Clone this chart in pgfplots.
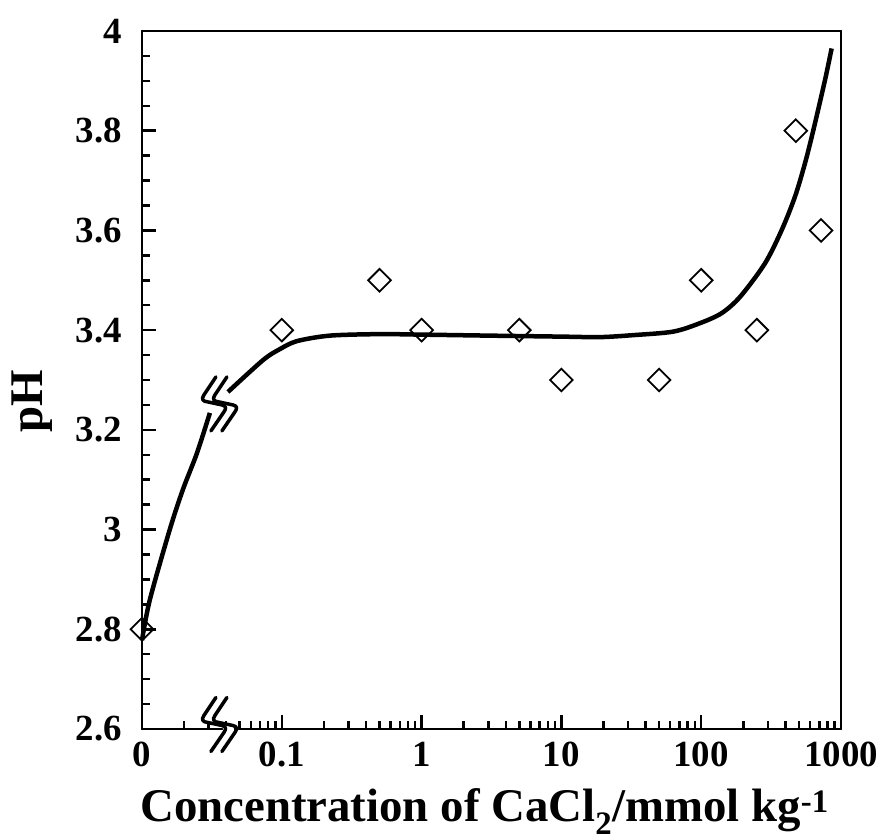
\documentclass[border=0pt]{standalone}
\usepackage{pgfplots}
\pgfplotsset{compat=1.18}
\usepackage{fontspec}
\setmainfont{Liberation Serif}
\begin{document}
\begin{tikzpicture}
\useasboundingbox (-142bp,-111bp) rectangle (741bp,729bp);
\begin{axis}[
  at={(0,0)}, anchor=south west,
  scale only axis, width=699bp, height=698bp,
  xmode=log, xmin=0.01, xmax=1000, ymin=2.6, ymax=4,
  clip=false,
  xtick={0.01,0.1,1,10,100,1000},
  xticklabels={0,0.1,1,10,100,1000},
  minor xtick={0.02,0.03,0.04,0.05,0.06,0.07,0.08,0.09,0.2,0.3,0.4,0.5,0.6,0.7,0.8,0.9,2,3,4,5,6,7,8,9,20,30,40,50,60,70,80,90,200,300,400,500,600,700,800,900},
  ytick={2.6,2.8,3,3.2,3.4,3.6,3.8,4},
  yticklabels={2.6,2.8,3,3.2,3.4,3.6,3.8,4},
  minor ytick={2.65,2.7,2.75,2.85,2.9,2.95,3.05,3.1,3.15,3.25,3.3,3.35,3.45,3.5,3.55,3.65,3.7,3.75,3.85,3.9,3.95},
  tick align=inside, xtick pos=left, ytick pos=left,
  major tick length=14bp, minor tick length=8bp,
  every tick/.style={black, line width=2.5bp},
  axis line style={line width=2.5bp},
  tick label style={font=\fontsize{37}{40}\selectfont\bfseries},
  xticklabel style={anchor=north, inner sep=0pt, yshift=-13bp},
  yticklabel style={anchor=east, inner sep=0pt, xshift=-20bp},
  xlabel={Concentration of CaCl\textsubscript{2}/mmol kg\textsuperscript{-1}},
  ylabel={pH},
  label style={font=\fontsize{47}{50}\selectfont\bfseries},
  xlabel style={at={(axis description cs:0.49,-0.1318)}, anchor=base},
  ylabel style={at={(axis description cs:-0.143,0.47)}, anchor=base},
]
\addplot[line width=4.5bp, smooth, black] coordinates {
 (0.01,2.778) (0.0114,2.86) (0.0158,3.0) (0.0196,3.08) (0.0247,3.153) (0.0306,3.234)};
\addplot[line width=4.5bp, smooth, black] coordinates {
 (0.0412,3.276) (0.0735,3.340) (0.097,3.362) (0.1285,3.378) (0.221,3.389) (0.5,3.392)
 (1,3.391) (3,3.389) (10,3.387) (18.9,3.386) (32.7,3.39) (63,3.397) (98,3.414)
 (140,3.434) (190,3.467) (286,3.534) (377,3.601) (469,3.668) (553,3.735) (634,3.801)
 (769,3.902) (857,3.965)};
\addplot[only marks, mark=square, mark size=8bp, mark options={rotate=45, line width=1.8bp, black, fill=none}] coordinates {
 (0.01,2.8) (0.1,3.4) (0.5,3.5) (1,3.4) (5,3.4) (10,3.3) (50,3.3) (100,3.5) (250,3.4) (475,3.8) (720,3.6)};
\coordinate (brA) at (axis cs:0.0373,3.252);
\coordinate (brB) at (axis cs:0.0373,2.609);
\end{axis}
\foreach \c in {brA,brB} {
 \begin{scope}[shift={(\c)}, x=1bp, y=1bp]
  \fill[white] (-6,27) -- (-18,9) -- (-14,2) -- (0,-1) -- (2,-8) -- (-11,-27) -- (0,-27) -- (13,-8) -- (11,-1) -- (-3,2) -- (-7,9) -- (5,27) -- cycle;
  \foreach \d in {-2,9} {
   \draw[line width=3.5bp, line cap=round, line join=round] (-4+\d,27) -- (-16+\d,9) .. controls (-19+\d,4.5) and (-17+\d,2.5) .. (-12+\d,2) -- (2+\d,-1) .. controls (7+\d,-2) and (6+\d,-5) .. (4+\d,-8) -- (-9+\d,-27);
  }
 \end{scope}
}
\end{tikzpicture}
\end{document}
